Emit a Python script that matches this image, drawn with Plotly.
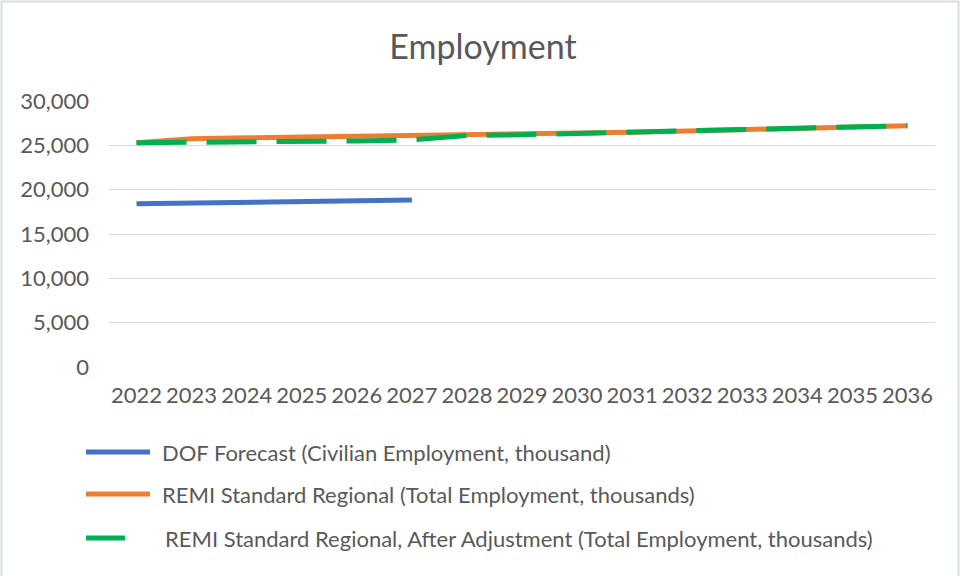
import plotly.graph_objects as go

# Years on the category axis
years = [str(y) for y in range(2022, 2037)]

# DOF Forecast (Civilian Employment, thousand) - only through 2027
dof_years = years[:6]
dof_values = [18400, 18500, 18560, 18650, 18740, 18830]

# REMI Standard Regional (Total Employment, thousands)
remi_values = [25300, 25750, 25850, 25940, 26000, 26060, 26110, 26200,
               26330, 26470, 26620, 26770, 26920, 27070, 27220]

# REMI Standard Regional, After Adjustment (Total Employment, thousands)
remi_adj_values = [25300, 25330, 25380, 25420, 25490, 25620, 26100, 26200,
                   26330, 26470, 26620, 26770, 26920, 27070, 27220]

series_names = [
    "DOF Forecast (Civilian Employment, thousand)",
    "REMI Standard Regional (Total Employment, thousands)",
    "REMI Standard Regional, After Adjustment (Total Employment, thousands)",
]
colors = ["#4472C4", "#ED7D31", "#00B050"]

W, H = 963, 576
ML, MR, MT, MB = 109, 28, 101, 209
PW, PH = W - ML - MR, H - MT - MB
FONT = "Lato"
TXT = "#595959"


def px_x(px):
    return (px - ML) / PW


def px_y(py):
    return (H - MB - py) / PH


fig = go.Figure()
fig.add_trace(go.Scatter(x=dof_years, y=dof_values, mode="lines", name=series_names[0],
                         line=dict(color=colors[0], width=5)))
fig.add_trace(go.Scatter(x=years, y=remi_values, mode="lines", name=series_names[1],
                         line=dict(color=colors[1], width=5)))
fig.add_trace(go.Scatter(x=years, y=remi_adj_values, mode="lines", name=series_names[2],
                         line=dict(color=colors[2], width=5, dash="50px,20px")))

# Hand-drawn legend below the plot (long line samples)
legend_rows = [(452, 150, 160), (494, 150, 160), (538, 125, 163)]
shapes = []
annotations = []
for (yy, xend, xtext), name, col in zip(legend_rows, series_names, colors):
    shapes.append(dict(type="line", xref="paper", yref="paper",
                       x0=px_x(86), x1=px_x(xend), y0=px_y(yy), y1=px_y(yy),
                       line=dict(color=col, width=5)))
    annotations.append(dict(xref="paper", yref="paper", x=px_x(xtext), y=px_y(yy),
                            xanchor="left", yanchor="middle", showarrow=False,
                            text=name, font=dict(family=FONT, size=22, color=TXT)))

# Thin chart-area frame
shapes.append(dict(type="rect", xref="paper", yref="paper",
                   x0=px_x(1.5), x1=px_x(958.5), y0=px_y(1.5), y1=px_y(590),
                   line=dict(color="#d4dede", width=2), layer="below"))

fig.update_layout(
    width=W, height=H,
    margin=dict(l=ML, r=MR, t=MT, b=MB),
    paper_bgcolor="white", plot_bgcolor="white",
    showlegend=False,
    title=dict(text="Employment", x=483 / W, xanchor="center", xref="container",
               y=1 - 47 / H, yanchor="middle", yref="container",
               font=dict(family=FONT, size=34, color=TXT)),
    shapes=shapes,
    annotations=annotations,
    xaxis=dict(type="category", range=[-0.5, 14.5], showgrid=False, zeroline=False,
               showline=False, ticks="", tickfont=dict(family=FONT, size=22, color=TXT),
               ticklabelstandoff=13),
    yaxis=dict(range=[0, 30000], dtick=5000, tickformat=",d", showgrid=True,
               gridcolor="#d9d9d9", gridwidth=1, zeroline=False, showline=False,
               ticks="", tickfont=dict(family=FONT, size=22, color=TXT),
               ticklabelstandoff=19),
)

fig.write_html("out.html")
